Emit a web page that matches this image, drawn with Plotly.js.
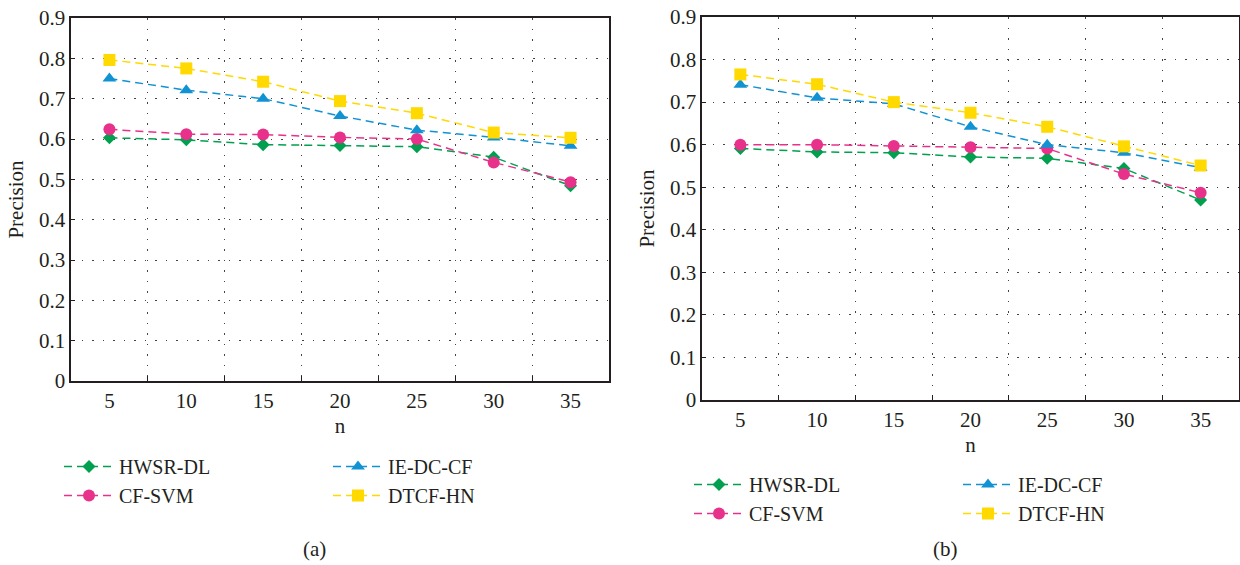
<!DOCTYPE html>
<html>
<head>
<meta charset="utf-8">
<script src="https://cdn.plot.ly/plotly-3.0.1.min.js"></script>
<style>html,body{margin:0;padding:0;background:#fff;}#chart{width:1240px;height:565px;}</style>
</head>
<body>
<div id="chart"></div>
<script>
const categories = ['5', '10', '15', '20', '25', '30', '35'];
const seriesNames = ['HWSR-DL', 'CF-SVM', 'IE-DC-CF', 'DTCF-HN'];

// Panel (a)
const aHWSR = [0.603, 0.598, 0.586, 0.584, 0.581, 0.555, 0.484];
const aCFSVM = [0.624, 0.612, 0.611, 0.604, 0.600, 0.542, 0.493];
const aIEDC = [0.750, 0.721, 0.700, 0.657, 0.622, 0.604, 0.583];
const aDTCF = [0.796, 0.775, 0.742, 0.694, 0.664, 0.616, 0.603];

// Panel (b)
const bHWSR = [0.591, 0.583, 0.581, 0.571, 0.568, 0.544, 0.470];
const bCFSVM = [0.600, 0.600, 0.597, 0.594, 0.591, 0.531, 0.487];
const bIEDC = [0.741, 0.710, 0.696, 0.642, 0.600, 0.581, 0.546];
const bDTCF = [0.765, 0.742, 0.700, 0.675, 0.642, 0.596, 0.551];

const yTickVals = [0, 0.1, 0.2, 0.3, 0.4, 0.5, 0.6, 0.7, 0.8, 0.9];
const yTickText = ['0', '0.1', '0.2', '0.3', '0.4', '0.5', '0.6', '0.7', '0.8', '0.9'];
const panelLabels = ['(a)', '(b)'];
const xTitle = 'n';
const yTitle = 'Precision';

const colors = ['#00a04f', '#e8318a', '#1192d3', '#ffd900'];
const symbols = ['diamond', 'circle', 'triangle-up', 'square'];
const sizes = [10, 12, 12, 12];
const W = 1240, H = 565;
const FONT = '"Liberation Serif", serif';
const INK = '#231f20';

function mk(name, vals, idx, xa, ya, legend) {
  return {
    type: 'scatter', mode: 'lines+markers', name: name,
    x: categories, y: vals, xaxis: xa, yaxis: ya, legend: legend,
    line: {color: colors[idx], width: 1.5, dash: '8px,5px'},
    marker: {color: colors[idx], symbol: symbols[idx], size: sizes[idx]},
    cliponaxis: false
  };
}

const aSets = [aHWSR, aCFSVM, aIEDC, aDTCF];
const bSets = [bHWSR, bCFSVM, bIEDC, bDTCF];
const data = [];
aSets.forEach((v, i) => data.push(mk(seriesNames[i], v, i, 'x', 'y', i < 2 ? 'legend' : 'legend2')));
bSets.forEach((v, i) => data.push(mk(seriesNames[i], v, i, 'x2', 'y2', i < 2 ? 'legend3' : 'legend4')));

function xax(domain, anchor, standoff) {
  return {
    domain: domain, anchor: anchor, type: 'category', range: [-0.5, 6.5],
    tickson: 'boundaries', ticks: 'inside', ticklen: 5, tickcolor: INK, tickwidth: 1.2,
    showline: true, mirror: true, linecolor: INK, linewidth: 1.6,
    showgrid: true, gridcolor: '#444', griddash: '1.5px,9px', gridwidth: 1,
    tickfont: {family: FONT, size: 21, color: INK}, tickangle: 0,
    title: {text: xTitle, font: {family: FONT, size: 21, color: INK}, standoff: standoff},
    zeroline: false, fixedrange: true, automargin: false
  };
}
function yax(domain, anchor, standoff) {
  return {
    domain: domain, anchor: anchor, range: [0, 0.9], tickvals: yTickVals, ticktext: yTickText,
    ticks: 'inside', ticklen: 4, tickcolor: INK,
    showline: true, mirror: true, linecolor: INK, linewidth: 1.6,
    showgrid: true, gridcolor: '#444', griddash: '1.5px,9px', gridwidth: 1,
    tickfont: {family: FONT, size: 21, color: INK},
    title: {text: yTitle, font: {family: FONT, size: 21, color: INK}, standoff: standoff},
    zeroline: false, fixedrange: true, automargin: false
  };
}

function leg(xpx, ypx) {
  return {
    xref: 'paper', yref: 'paper', x: xpx / W, y: 1 - ypx / H,
    xanchor: 'left', yanchor: 'top', orientation: 'v', bgcolor: 'rgba(0,0,0,0)',
    font: {family: FONT, size: 20, color: INK}, itemwidth: 50, tracegroupgap: 0
  };
}

const layout = {
  width: W, height: H,
  margin: {l: 0, r: 0, t: 0, b: 0, autoexpand: false},
  paper_bgcolor: '#fff', plot_bgcolor: '#fff',
  showlegend: true,
  xaxis: xax([71 / W, 609 / W], 'y', 6),
  yaxis: yax([(H - 381) / H, (H - 18) / H], 'x', 9),
  xaxis2: xax([702 / W, 1239 / W], 'y2', 6),
  yaxis2: yax([(H - 400) / H, (H - 17) / H], 'x2', 9),
  legend: leg(59, 447),
  legend2: leg(328, 447),
  legend3: leg(689, 465),
  legend4: leg(958, 465),
  annotations: [
    {xref: 'paper', yref: 'paper', x: 314 / W, y: 1 - 549 / H, text: panelLabels[0], showarrow: false,
     font: {family: FONT, size: 21, color: INK}, xanchor: 'center', yanchor: 'middle'},
    {xref: 'paper', yref: 'paper', x: 945 / W, y: 1 - 549 / H, text: panelLabels[1], showarrow: false,
     font: {family: FONT, size: 21, color: INK}, xanchor: 'center', yanchor: 'middle'}
  ]
};

Plotly.newPlot('chart', data, layout, {displayModeBar: false, staticPlot: true});
</script>
</body>
</html>
